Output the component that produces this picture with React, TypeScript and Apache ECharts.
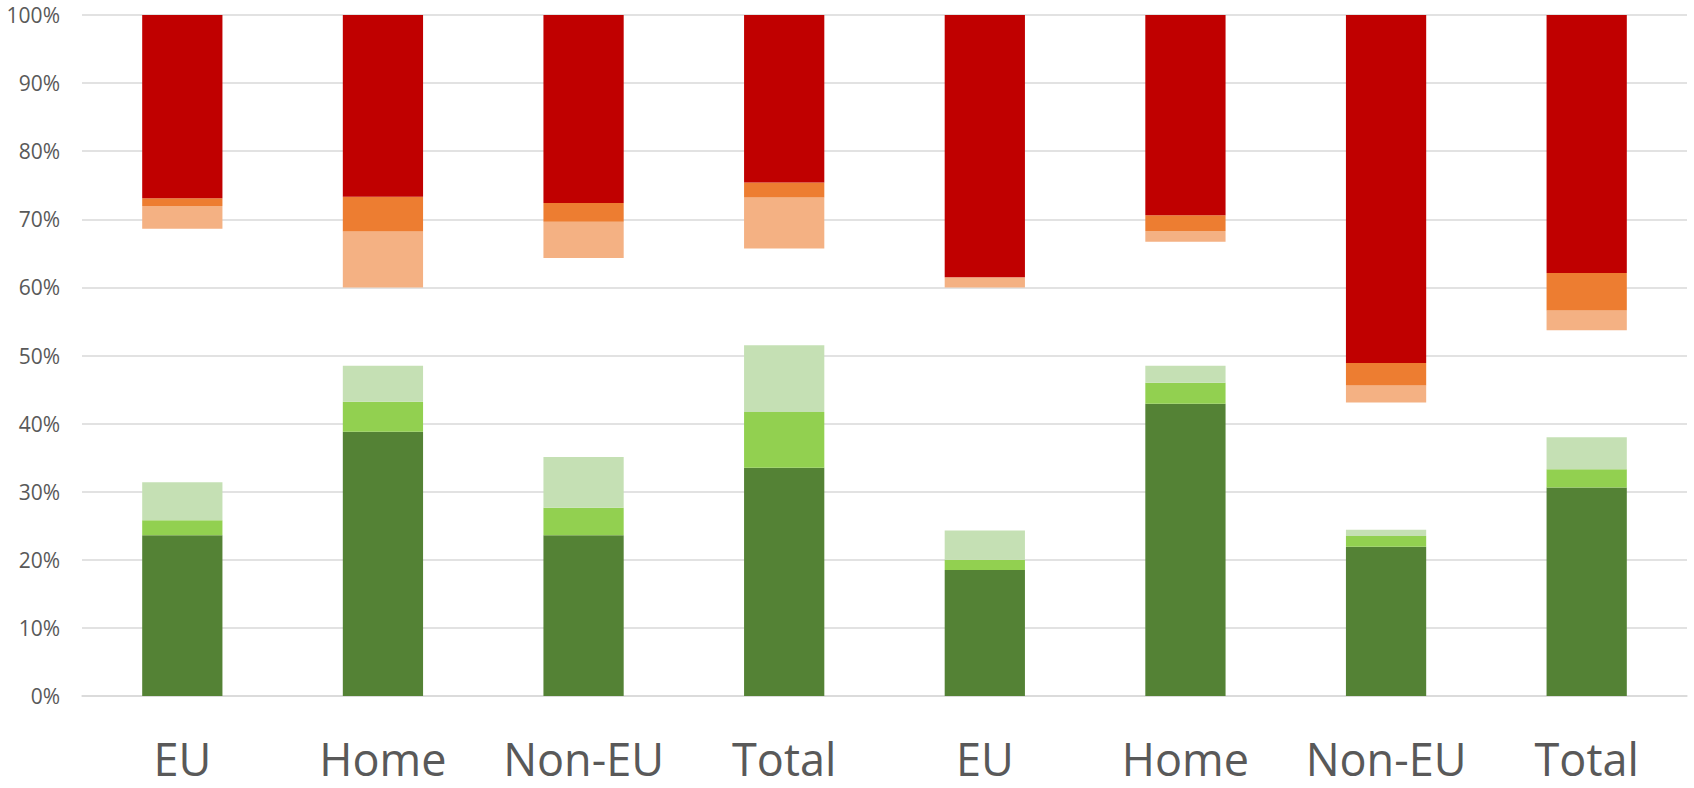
import React, { useEffect, useRef } from "react";
import * as echarts from "echarts";

const categories = ["EU", "Home", "Non-EU", "Total", "EU", "Home", "Non-EU", "Total"];
const yTicks = [0, 10, 20, 30, 40, 50, 60, 70, 80, 90, 100];

// bottom-up (green)
const darkGreen = [23.6, 38.8, 23.6, 33.5, 18.5, 42.9, 21.9, 30.6];
const midGreen = [2.2, 4.4, 4.05, 8.2, 1.5, 3.1, 1.6, 2.7];
const paleGreen = [5.6, 5.3, 7.45, 9.8, 4.3, 2.5, 0.9, 4.7];
// top-down (red)
const lightOrange = [3.35, 8.2, 5.35, 7.5, 1.5, 1.6, 2.5, 2.9];
const orange = [1.15, 5.1, 2.75, 2.2, 0, 2.3, 3.3, 5.5];
const red = [26.9, 26.7, 27.6, 24.6, 38.5, 29.4, 51.1, 37.9];

const gap = categories.map(
  (_, i) =>
    100 - darkGreen[i] - midGreen[i] - paleGreen[i] - lightOrange[i] - orange[i] - red[i]
);

export default function App() {
  const ref = useRef<HTMLDivElement>(null);
  useEffect(() => {
    if (!ref.current) return;
    const chart = echarts.init(ref.current, null, { renderer: "svg" });
    const mk = (name: string, data: number[], color: string) => ({
      name,
      type: "bar",
      stack: "s",
      data,
      barWidth: "40%",
      itemStyle: { color },
      emphasis: { disabled: true },
    });
    chart.setOption({
      animation: false,
      grid: { left: 82, right: 7, top: 15, bottom: 92, containLabel: false },
      xAxis: {
        type: "category",
        data: categories,
        axisLine: { show: true, lineStyle: { color: "#d9d9d9", width: 1.5 } },
        axisTick: { show: false },
        axisLabel: {
          color: "#595959",
          fontSize: 45,
          fontFamily: "Open Sans",
          margin: 40,
          interval: 0,
        },
      },
      yAxis: {
        type: "value",
        min: 0,
        max: 100,
        interval: 10,
        axisLine: { show: false },
        axisTick: { show: false },
        splitLine: { lineStyle: { color: "#d9d9d9", width: 1.5 } },
        axisLabel: {
          color: "#595959",
          fontSize: 21,
          fontFamily: "Open Sans",
          margin: 22,
          formatter: (v: number) => (yTicks.includes(v) ? v + "%" : ""),
        },
      },
      series: [
        mk("Dark green", darkGreen, "#548235"),
        mk("Mid green", midGreen, "#92D050"),
        mk("Pale green", paleGreen, "#C5E0B4"),
        mk("Neutral", gap, "rgba(0,0,0,0)"),
        mk("Light orange", lightOrange, "#F4B183"),
        mk("Orange", orange, "#ED7D31"),
        mk("Red", red, "#C00000"),
      ],
    });
    return () => chart.dispose();
  }, []);
  return (
    <div
      ref={ref}
      style={{ position: "fixed", left: 0, top: 0, width: 1694, height: 788, background: "#fff" }}
    />
  );
}
